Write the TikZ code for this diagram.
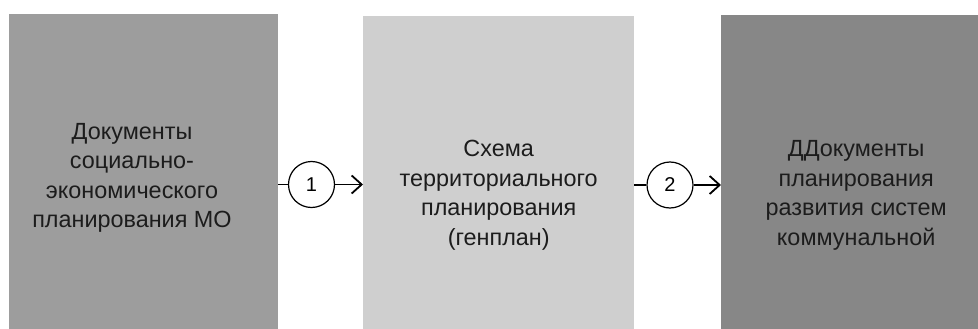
\documentclass[tikz,border=0pt]{standalone}
\usepackage{fontspec}
\setmainfont{Liberation Sans}
\usepackage{xcolor}
\usetikzlibrary{arrows.meta,positioning}

\definecolor{boxone}{HTML}{9D9D9D}
\definecolor{boxtwo}{HTML}{CFCFCF}
\definecolor{boxthree}{HTML}{878787}
\definecolor{ink}{HTML}{1C1C1C}

\tikzset{
  doctext/.style={inner sep=0pt, align=center, text=ink,
    font=\fontsize{23.4}{29.5}\selectfont},
  docbox/.style={doctext, anchor=north west, minimum width=270pt},
  num/.style={circle, draw=black, line width=1.2pt, fill=white, inner sep=0pt,
    minimum size=46pt, font=\fontsize{20}{20}\selectfont},
  link/.style={line width=1.8pt, draw=black},
}

\begin{document}
\begin{tikzpicture}[x=1pt,y=-1pt]
			\useasboundingbox (0,0) rectangle (978,329);

			% documents (boxes run past the bottom edge)
			\node[docbox, fill=boxone, minimum width=269pt, minimum height=328pt] (A) at (9,14) {};
			\node[doctext] (At) at (132,178)
				{Документы\\социально-\\экономического\\планирования МО};
			\node[docbox, fill=boxtwo, minimum width=271pt, minimum height=358pt] (B) at (363,16)
				{Схема\\территориального\\планирования\\(генплан)};
			\node[docbox, fill=boxthree, minimum height=360pt] (C) at (721,15)
				{ДДокументы\\планирования\\развития систем\\коммунальной};

			% numbered steps
			\node[num] (c1) at (311.5,184.5) {1};
			\node[num] (c2) at (670,185) {2};

			\draw[link] (c1.west -| A.east) -- (c1);
			\draw[link, -{Straight Barb[length=10pt,width=18pt]}] (c1) -- (c1.east -| B.west);

			\draw[link] (c2.west -| B.east) -- (c2);
			\draw[link, -{Straight Barb[length=10pt,width=18pt]}] (c2) -- (c2.east -| C.west);

\end{tikzpicture}
\end{document}
